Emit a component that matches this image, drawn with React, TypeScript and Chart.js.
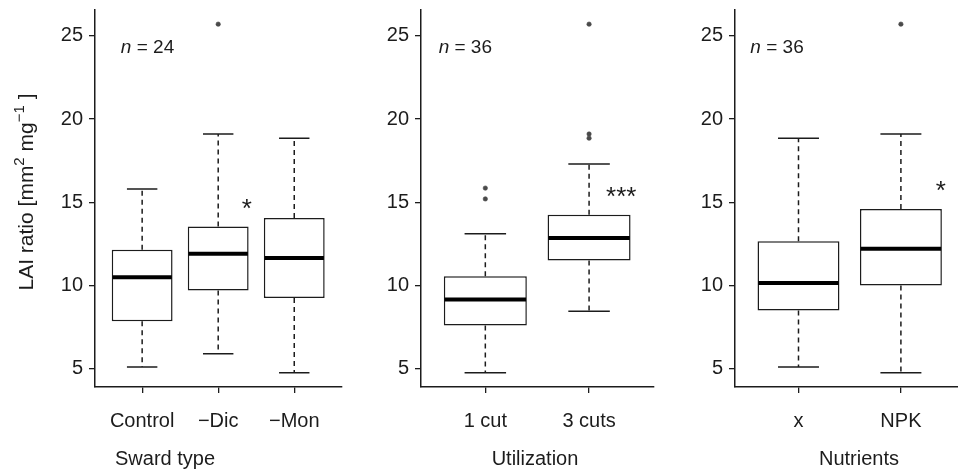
import React, { useEffect, useRef } from 'react';
import { Chart, registerables } from 'chart.js';

Chart.register(...registerables);

// ---------- data ----------
const yTicks = [5, 10, 15, 20, 25];
const Y_MIN = 3.9;
const Y_MAX = 26.55;

const swardCategories = ['Control', '\u2212Dic', '\u2212Mon'];
const swardLow = [5.1, 5.9, 4.75];
const swardQ1 = [7.85, 9.7, 9.25];
const swardMedian = [10.5, 11.9, 11.65];
const swardQ3 = [12.15, 13.55, 14.05];
const swardHigh = [15.8, 19.1, 18.85];
const swardOutliers = [[], [25.7], []];

const utilCategories = ['1 cut', '3 cuts'];
const utilLow = [4.75, 8.45];
const utilQ1 = [7.6, 11.5];
const utilMedian = [9.15, 12.85];
const utilQ3 = [10.55, 14.25];
const utilHigh = [13.1, 17.3];
const utilOutliers = [[15.85, 15.2], [25.7, 19.1, 18.85]];

const nutCategories = ['x', 'NPK'];
const nutLow = [5.1, 4.75];
const nutQ1 = [8.5, 10.0];
const nutMedian = [10.15, 12.2];
const nutQ3 = [12.65, 14.6];
const nutHigh = [18.85, 19.1];
const nutOutliers = [[], [25.7]];

const nLabels = ['24', '36', '36'];
const axisTitles = ['Sward type', 'Utilization', 'Nutrients'];
const signifLabels = ['*', '***', '*'];
// annotation anchor in data units (x index, y value)
const signifX = [1.376, 1.31, 1.39];
const signifY = [14.46, 15.18, 15.54];
const nLabelX = [-0.28, -0.45, -0.47];
const nLabelY = 24.3;

// ---------- style / layout ----------
const FONT = '"Liberation Sans", Arial, Helvetica, sans-serif';
const INK = '#1c1c1c';

type Panel = {
  cats: string[];
  low: number[];
  q1: number[];
  med: number[];
  q3: number[];
  high: number[];
  out: number[][];
  idx: number;
  left: number;
  width: number;
  axisW: number;
  titleCenter: number;
  yTitle: boolean;
};

const panels: Panel[] = [
  { cats: swardCategories, low: swardLow, q1: swardQ1, med: swardMedian, q3: swardQ3, high: swardHigh, out: swardOutliers, idx: 0, left: 0, width: 346, axisW: 95, titleCenter: 165, yTitle: true },
  { cats: utilCategories, low: utilLow, q1: utilQ1, med: utilMedian, q3: utilQ3, high: utilHigh, out: utilOutliers, idx: 1, left: 346, width: 312, axisW: 75, titleCenter: 535, yTitle: false },
  { cats: nutCategories, low: nutLow, q1: nutQ1, med: nutMedian, q3: nutQ3, high: nutHigh, out: nutOutliers, idx: 2, left: 658, width: 311, axisW: 77, titleCenter: 859, yTitle: false },
];

const CANVAS_H = 472;
const PLOT_TOP = 10;
const PLOT_BOTTOM = 387;

function drawCenteredText(ctx: CanvasRenderingContext2D, text: string, cx: number, cy: number) {
  const m = ctx.measureText(text);
  const asc = m.actualBoundingBoxAscent;
  const desc = m.actualBoundingBoxDescent;
  ctx.textAlign = 'center';
  ctx.textBaseline = 'alphabetic';
  ctx.fillText(text, cx, cy + (asc - desc) / 2);
}

function makeConfig(p: Panel): any {
  const n = p.cats.length;
  const extras = {
    id: 'boxExtras' + p.idx,
    beforeDatasetsDraw(chart: any) {
      const ctx: CanvasRenderingContext2D = chart.ctx;
      const xs = chart.scales.x;
      const ys = chart.scales.y;
      const meta = chart.getDatasetMeta(0);
      ctx.save();
      ctx.strokeStyle = INK;
      ctx.lineWidth = 1.5;
      for (let i = 0; i < n; i++) {
        const px = xs.getPixelForValue(i);
        const bw = meta.data[i] ? meta.data[i].width : 60;
        const half = bw / 4;
        // whiskers (dashed)
        ctx.setLineDash([5, 4]);
        ctx.beginPath();
        ctx.moveTo(px, ys.getPixelForValue(p.q3[i]));
        ctx.lineTo(px, ys.getPixelForValue(p.high[i]));
        ctx.moveTo(px, ys.getPixelForValue(p.q1[i]));
        ctx.lineTo(px, ys.getPixelForValue(p.low[i]));
        ctx.stroke();
        // caps
        ctx.setLineDash([]);
        ctx.beginPath();
        const yh = ys.getPixelForValue(p.high[i]);
        const yl = ys.getPixelForValue(p.low[i]);
        ctx.moveTo(px - half, yh);
        ctx.lineTo(px + half, yh);
        ctx.moveTo(px - half, yl);
        ctx.lineTo(px + half, yl);
        ctx.stroke();
      }
      ctx.restore();
    },
    afterDatasetsDraw(chart: any) {
      const ctx: CanvasRenderingContext2D = chart.ctx;
      const xs = chart.scales.x;
      const ys = chart.scales.y;
      const meta = chart.getDatasetMeta(0);
      ctx.save();
      ctx.strokeStyle = '#000';
      ctx.lineWidth = 4;
      ctx.lineCap = 'butt';
      for (let i = 0; i < n; i++) {
        const px = xs.getPixelForValue(i);
        const bw = meta.data[i] ? meta.data[i].width : 60;
        const ym = ys.getPixelForValue(p.med[i]);
        ctx.beginPath();
        ctx.moveTo(px - bw / 2 + 0.75, ym);
        ctx.lineTo(px + bw / 2 - 0.75, ym);
        ctx.stroke();
      }
      ctx.restore();
    },
    afterDraw(chart: any) {
      const ctx: CanvasRenderingContext2D = chart.ctx;
      const xs = chart.scales.x;
      const ys = chart.scales.y;
      ctx.save();
      ctx.fillStyle = INK;
      // n = ..
      const nx = xs.getPixelForValue(nLabelX[p.idx]);
      const ny = ys.getPixelForValue(nLabelY);
      ctx.font = `italic 19px ${FONT}`;
      ctx.textAlign = 'left';
      ctx.textBaseline = 'middle';
      ctx.fillText('n', nx, ny);
      const nw = ctx.measureText('n').width;
      ctx.font = `19px ${FONT}`;
      ctx.fillText(' = ' + nLabels[p.idx], nx + nw, ny);
      // significance
      ctx.font = `26px ${FONT}`;
      drawCenteredText(ctx, signifLabels[p.idx], xs.getPixelForValue(signifX[p.idx]), ys.getPixelForValue(signifY[p.idx]));
      // x title
      ctx.font = `20px ${FONT}`;
      ctx.textAlign = 'center';
      ctx.textBaseline = 'alphabetic';
      ctx.fillText(axisTitles[p.idx], p.titleCenter - p.left, 465);
      // y title
      if (p.yTitle) {
        const parts = [
          { t: 'LAI ratio [mm', sup: false },
          { t: '2', sup: true },
          { t: ' mg', sup: false },
          { t: '\u22121', sup: true },
          { t: ' ]', sup: false },
        ];
        let total = 0;
        const widths: number[] = [];
        for (const part of parts) {
          ctx.font = part.sup ? `15px ${FONT}` : `21px ${FONT}`;
          const w = ctx.measureText(part.t).width;
          widths.push(w);
          total += w;
        }
        ctx.translate(33, 192);
        ctx.rotate(-Math.PI / 2);
        ctx.textAlign = 'left';
        ctx.textBaseline = 'alphabetic';
        let x = -total / 2;
        parts.forEach((part, k) => {
          ctx.font = part.sup ? `15px ${FONT}` : `21px ${FONT}`;
          ctx.fillText(part.t, x, part.sup ? -9 : 0);
          x += widths[k];
        });
      }
      ctx.restore();
    },
  };

  const outlierData: { x: number; y: number }[] = [];
  p.out.forEach((arr, i) => arr.forEach((v) => outlierData.push({ x: i, y: v })));

  const tickFont = { family: FONT, size: 20 };

  return {
    type: 'bar',
    data: {
      datasets: [
        {
          type: 'bar',
          data: p.cats.map((_, i) => ({ x: i, y: [p.q1[i], p.q3[i]] })),
          backgroundColor: '#ffffff',
          borderColor: INK,
          borderWidth: 1.5,
          borderSkipped: false,
          barPercentage: 0.8,
          categoryPercentage: 1,
          order: 2,
        },
        {
          type: 'scatter',
          data: outlierData,
          pointRadius: 2.2,
          pointBackgroundColor: '#4a4a4a',
          pointBorderColor: '#4a4a4a',
          pointBorderWidth: 0.6,
          showLine: false,
          order: 1,
        },
      ],
    },
    options: {
      responsive: false,
      animation: false,
      devicePixelRatio: 1,
      layout: { padding: { top: PLOT_TOP, left: 0, right: 0, bottom: 0 } },
      plugins: { legend: { display: false }, tooltip: { enabled: false } },
      scales: {
        x: {
          type: 'linear',
          min: -0.62,
          max: n - 1 + 0.62,
          offset: false,
          afterBuildTicks: (s: any) => {
            s.ticks = p.cats.map((_, i) => ({ value: i }));
          },
          afterFit: (s: any) => {
            s.height = CANVAS_H - PLOT_BOTTOM;
            s.paddingLeft = 0;
            s.paddingRight = 0;
          },
          ticks: {
            callback: (v: number) => p.cats[Math.round(v)] ?? '',
            font: tickFont,
            color: INK,
            padding: 16,
            maxRotation: 0,
            autoSkip: false,
          },
          grid: { display: true, offset: false, drawOnChartArea: false, drawTicks: true, tickLength: 6, color: INK, lineWidth: 1.3 },
          border: { display: true, color: INK, width: 1.5 },
        },
        y: {
          type: 'linear',
          min: Y_MIN,
          max: Y_MAX,
          afterBuildTicks: (s: any) => {
            s.ticks = yTicks.map((v) => ({ value: v }));
          },
          afterFit: (s: any) => {
            s.width = p.axisW;
            s.paddingTop = 0;
            s.paddingBottom = 0;
          },
          ticks: {
            callback: (v: number) => String(v),
            font: tickFont,
            color: INK,
            padding: 6,
          },
          grid: { display: true, drawOnChartArea: false, drawTicks: true, tickLength: 6, color: INK, lineWidth: 1.3 },
          border: { display: true, color: INK, width: 1.5 },
        },
      },
    },
    plugins: [extras],
  };
}

function PanelChart({ p }: { p: Panel }) {
  const ref = useRef<HTMLCanvasElement | null>(null);
  useEffect(() => {
    if (!ref.current) return;
    const chart = new Chart(ref.current, makeConfig(p));
    return () => chart.destroy();
  }, [p]);
  return (
    <canvas
      ref={ref}
      width={p.width}
      height={CANVAS_H}
      style={{ position: 'absolute', left: p.left, top: 0, width: p.width, height: CANVAS_H }}
    />
  );
}

export default function App() {
  return (
    <div
      style={{
        position: 'absolute',
        left: 0,
        top: 0,
        width: 958,
        height: 472,
        overflow: 'hidden',
        background: '#ffffff',
      }}
    >
      {panels.map((p) => (
        <PanelChart key={p.idx} p={p} />
      ))}
    </div>
  );
}
